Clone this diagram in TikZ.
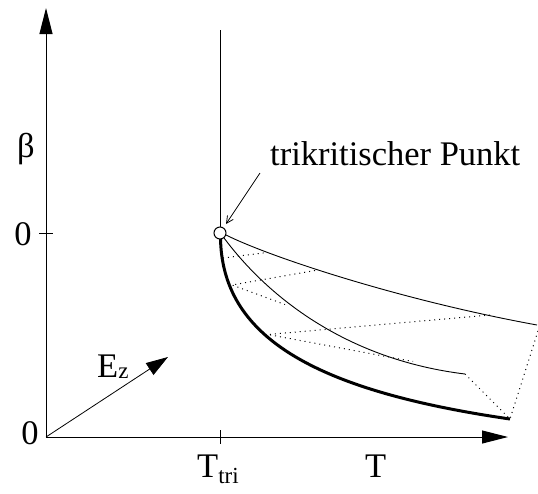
\documentclass[tikz,border=0pt]{standalone}
\usepackage{fontspec}
\setmainfont{Liberation Serif}
\usetikzlibrary{arrows.meta}
\tikzset{
  axis/.style={line width=1pt,-{Triangle[length=26pt,width=13pt]}},
  thin/.style={line width=0.9pt},
  thickc/.style={line width=3pt},
  dots/.style={line width=1pt,dash pattern=on 1pt off 4pt},
  lbl/.style={inner sep=0pt,font=\fontsize{34.5}{40}\selectfont}
}
\begin{document}
\begin{tikzpicture}[x=1pt,y=-1pt]
\useasboundingbox (0,0) rectangle (538,493);
% coordinates
\coordinate (O) at (46,437);
\coordinate (ytop) at (46,8);
\coordinate (xend) at (508,437);
\coordinate (ezend) at (168,357);
\coordinate (yt1) at (39,233);
\coordinate (yt2) at (53,233);
\coordinate (xt1) at (220,430);
\coordinate (xt2) at (220,444);
\coordinate (vtop) at (220,30);
\coordinate (arrs) at (260,173);
\coordinate (arre) at (226,224);
% axes
\draw[axis] (O) -- (ytop);
\draw[axis] (O) -- (xend);
\draw[line width=0.8pt,-{Triangle[length=22pt,width=14pt]}] (O) -- (ezend);
\draw[thin] (yt1) -- (yt2);
\draw[thin] (xt1) -- (xt2);
% labels
\node[lbl,anchor=center] (beta) at (26,149) {β};
\node[lbl,anchor=center] (zero1) at (23,234) {0};
\node[lbl,anchor=center] (zero0) at (30,433) {0};
\node[lbl,anchor=base west] (ez) at (97,377) {E\raisebox{-1pt}{\fontsize{23}{28}\selectfont z}};
\node[lbl,anchor=base west] (ttri) at (197,477) {T\raisebox{-6pt}{\fontsize{23}{28}\selectfont tri}};
\node[lbl,anchor=base west] (tT) at (365,477) {T};
\node[lbl,anchor=base west] (tkp) at (270,165) {trikritischer Punkt};
% curves
\coordinate (ustart) at (226,235);
\coordinate (mstart) at (223.3,237);
\coordinate (kstart) at (220.5,238);
\coordinate (uend) at (537,325);
\coordinate (mend) at (465,374);
\coordinate (kend) at (510,419);
\draw[thin] (ustart) .. controls (270,257) and (400,300) .. (uend);
\draw[thin] (mstart) .. controls (270,300) and (350,360) .. (mend);
\draw[thickc] (kstart) .. controls (222,335) and (310,390) .. (kend);
% dotted
\coordinate (d1a) at (223,258);
\coordinate (d1b) at (267,252.5);
\coordinate (d2a) at (232,285);
\coordinate (d2b) at (315,270.5);
\coordinate (d2c) at (285,304.5);
\coordinate (d3a) at (268,334.5);
\coordinate (d3b) at (490,315);
\coordinate (d3c) at (413,361.5);
\coordinate (d5) at (538,331);
\draw[dots] (d1a) -- (d1b);
\draw[dots] (d2b) -- (d2a) -- (d2c);
\draw[dots] (d3b) -- (d3a) -- (d3c);
\draw[dots] (mend) -- (kend) -- (d5);
% vertical line and point
\draw[thin] (vtop) -- (220,227);
\node[circle,draw,fill=white,line width=1pt,minimum size=12pt,inner sep=0pt] (tp) at (220,233) {};
\draw[line width=0.8pt,-{Straight Barb[length=7pt,width=7pt]}] (arrs) -- (arre);
\end{tikzpicture}
\end{document}
